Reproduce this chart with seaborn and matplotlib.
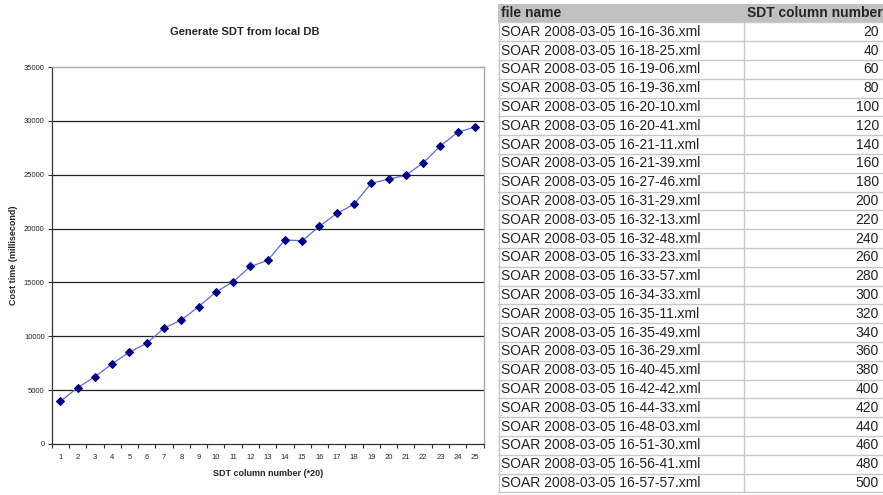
import matplotlib
matplotlib.use("Agg")
import matplotlib.pyplot as plt
import seaborn as sns
import pandas as pd
from matplotlib.ticker import MultipleLocator

# chart data
batch = [1, 2, 3, 4, 5, 6, 7, 8, 9, 10, 11, 12, 13, 14, 15, 16, 17, 18, 19, 20, 21, 22, 23, 24, 25]
cost_ms = [3960, 5220, 6240, 7450, 8530, 9340, 10760, 11500, 12750, 14100, 15060, 16480,
           17040, 18950, 18860, 20220, 21400, 22260, 24210, 24580, 24950, 26100, 27670, 28940, 29430]

# table data
file_names = [
    "SOAR 2008-03-05 16-16-36.xml", "SOAR 2008-03-05 16-18-25.xml", "SOAR 2008-03-05 16-19-06.xml",
    "SOAR 2008-03-05 16-19-36.xml", "SOAR 2008-03-05 16-20-10.xml", "SOAR 2008-03-05 16-20-41.xml",
    "SOAR 2008-03-05 16-21-11.xml", "SOAR 2008-03-05 16-21-39.xml", "SOAR 2008-03-05 16-27-46.xml",
    "SOAR 2008-03-05 16-31-29.xml", "SOAR 2008-03-05 16-32-13.xml", "SOAR 2008-03-05 16-32-48.xml",
    "SOAR 2008-03-05 16-33-23.xml", "SOAR 2008-03-05 16-33-57.xml", "SOAR 2008-03-05 16-34-33.xml",
    "SOAR 2008-03-05 16-35-11.xml", "SOAR 2008-03-05 16-35-49.xml", "SOAR 2008-03-05 16-36-29.xml",
    "SOAR 2008-03-05 16-40-45.xml", "SOAR 2008-03-05 16-42-42.xml", "SOAR 2008-03-05 16-44-33.xml",
    "SOAR 2008-03-05 16-48-03.xml", "SOAR 2008-03-05 16-51-30.xml", "SOAR 2008-03-05 16-56-41.xml",
    "SOAR 2008-03-05 16-57-57.xml",
]
column_numbers = [20, 40, 60, 80, 100, 120, 140, 160, 180, 200, 220, 240, 260, 280, 300,
                  320, 340, 360, 380, 400, 420, 440, 460, 480, 500]
header = ["file name", "SDT column number"]

sns.set_style("white")
plt.rcParams['font.family'] = ['Liberation Sans', 'DejaVu Sans']

W, H = 883, 495
fig = plt.figure(figsize=(W / 100, H / 100), dpi=100)

# ---- line chart ----
ax = fig.add_axes([51.7 / W, (H - 444) / H, (483.6 - 51.7) / W, (444 - 67) / H])
df = pd.DataFrame({"batch": batch, "cost": cost_ms})
sns.lineplot(data=df, x="batch", y="cost", ax=ax, color="#6a6ac8", linewidth=0.9,
             marker="D", markersize=4.5, markerfacecolor="#000080", markeredgecolor="#000080")

ax.set_xlim(0.5, 25.5)
ax.set_ylim(0, 35000)
ax.yaxis.set_major_locator(MultipleLocator(5000))
ax.set_xticks(batch)
ax.set_xticklabels([str(b) for b in batch])
ax.xaxis.set_minor_locator(MultipleLocator(1, offset=0.5))
ax.tick_params(axis="x", which="major", length=0, labelsize=5.5, pad=7)
ax.tick_params(axis="x", which="minor", length=3, width=0.8, color="#333333", direction="out", bottom=True)
ax.tick_params(axis="y", which="major", length=3, width=0.8, color="#333333", direction="out",
               left=True, labelsize=5.5, pad=2)

for v in range(5000, 35000, 5000):
    ax.axhline(v, color="#222222", linewidth=0.9, zorder=0)

for side in ["left", "bottom"]:
    ax.spines[side].set_color("#333333")
    ax.spines[side].set_linewidth(0.9)
for side in ["top", "right"]:
    ax.spines[side].set_visible(True)
    ax.spines[side].set_color("#a8a8a8")
    ax.spines[side].set_linewidth(1.0)

ax.set_xlabel("SDT column number (*20)", fontsize=6.5, fontweight="bold")
ax.xaxis.set_label_coords(0.5, -(469 - 444) / (444 - 67))
ax.set_ylabel("Cost time (millisecond)", fontsize=6.5, fontweight="bold")
ax.yaxis.set_label_coords(-(51.7 - 18) / (483.6 - 51.7), 0.5)
fig.text(245 / W, 1 - 32 / H, "Generate SDT from local DB", ha="center", va="center",
         fontsize=8, fontweight="bold")

# ---- table on the right ----
tab = fig.add_axes([498 / W, 0, (W - 498) / W, 1])
row_h = 18.8
top_px = 3.6
tab.set_xlim(0, W - 498)
tab.set_ylim((H - top_px) / row_h, -top_px / row_h)
tab.axis("off")

col_split = 744 - 498
n_rows = len(file_names) + 1
grid_col = "#c8c8c8"

tab.add_patch(plt.Rectangle((0, 0), W - 498 + 5, 1, facecolor="#c0c0c0", edgecolor="none"))
tab.text(3, 0.5, header[0], ha="left", va="center", fontsize=10, fontweight="bold")
tab.text(col_split + 3, 0.5, header[1], ha="left", va="center", fontsize=10, fontweight="bold")

for i, (name, num) in enumerate(zip(file_names, column_numbers), start=1):
    tab.text(3, i + 0.5, name, ha="left", va="center", fontsize=10, color="#222222")
    tab.text(W - 498 - 4, i + 0.5, str(num), ha="right", va="center", fontsize=10, color="#222222")

for r in range(1, n_rows + 1):
    tab.plot([0, W - 498], [r, r], color=grid_col, linewidth=1.0)
tab.plot([0.5, 0.5], [0, n_rows], color=grid_col, linewidth=1.0)
tab.plot([col_split, col_split], [1, n_rows], color=grid_col, linewidth=1.0)

fig.savefig("out.png", dpi=100, facecolor="white")
